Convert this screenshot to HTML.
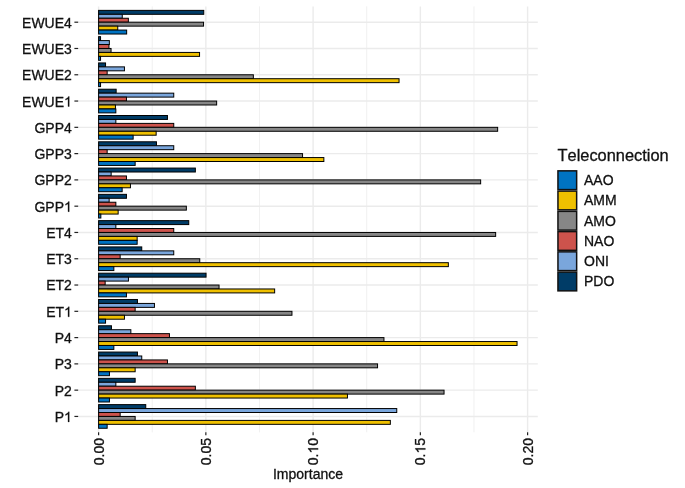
<!DOCTYPE html><html><head><meta charset="utf-8"><style>html,body{margin:0;padding:0;background:#fff;}svg{display:block;will-change:transform;}text{font-family:"Liberation Sans",sans-serif;font-kerning:none;stroke:#111;stroke-width:0.3px;}</style></head><body>
<svg width="685" height="488" viewBox="0 0 685 488">
<rect x="0" y="0" width="685" height="488" fill="#fff"/>
<line x1="152.22" y1="6.4" x2="152.22" y2="432.3" stroke="#EBEBEB" stroke-width="0.75"/>
<line x1="259.48" y1="6.4" x2="259.48" y2="432.3" stroke="#EBEBEB" stroke-width="0.75"/>
<line x1="366.73" y1="6.4" x2="366.73" y2="432.3" stroke="#EBEBEB" stroke-width="0.75"/>
<line x1="473.98" y1="6.4" x2="473.98" y2="432.3" stroke="#EBEBEB" stroke-width="0.75"/>
<line x1="98.6" y1="6.4" x2="98.6" y2="432.3" stroke="#EBEBEB" stroke-width="1.4"/>
<line x1="205.85" y1="6.4" x2="205.85" y2="432.3" stroke="#EBEBEB" stroke-width="1.4"/>
<line x1="313.1" y1="6.4" x2="313.1" y2="432.3" stroke="#EBEBEB" stroke-width="1.4"/>
<line x1="420.35" y1="6.4" x2="420.35" y2="432.3" stroke="#EBEBEB" stroke-width="1.4"/>
<line x1="527.6" y1="6.4" x2="527.6" y2="432.3" stroke="#EBEBEB" stroke-width="1.4"/>
<line x1="78.5" y1="22.2" x2="537.8" y2="22.2" stroke="#EBEBEB" stroke-width="1.4"/>
<line x1="78.5" y1="48.48" x2="537.8" y2="48.48" stroke="#EBEBEB" stroke-width="1.4"/>
<line x1="78.5" y1="74.77" x2="537.8" y2="74.77" stroke="#EBEBEB" stroke-width="1.4"/>
<line x1="78.5" y1="101.05" x2="537.8" y2="101.05" stroke="#EBEBEB" stroke-width="1.4"/>
<line x1="78.5" y1="127.33" x2="537.8" y2="127.33" stroke="#EBEBEB" stroke-width="1.4"/>
<line x1="78.5" y1="153.62" x2="537.8" y2="153.62" stroke="#EBEBEB" stroke-width="1.4"/>
<line x1="78.5" y1="179.9" x2="537.8" y2="179.9" stroke="#EBEBEB" stroke-width="1.4"/>
<line x1="78.5" y1="206.18" x2="537.8" y2="206.18" stroke="#EBEBEB" stroke-width="1.4"/>
<line x1="78.5" y1="232.46" x2="537.8" y2="232.46" stroke="#EBEBEB" stroke-width="1.4"/>
<line x1="78.5" y1="258.75" x2="537.8" y2="258.75" stroke="#EBEBEB" stroke-width="1.4"/>
<line x1="78.5" y1="285.03" x2="537.8" y2="285.03" stroke="#EBEBEB" stroke-width="1.4"/>
<line x1="78.5" y1="311.31" x2="537.8" y2="311.31" stroke="#EBEBEB" stroke-width="1.4"/>
<line x1="78.5" y1="337.6" x2="537.8" y2="337.6" stroke="#EBEBEB" stroke-width="1.4"/>
<line x1="78.5" y1="363.88" x2="537.8" y2="363.88" stroke="#EBEBEB" stroke-width="1.4"/>
<line x1="78.5" y1="390.16" x2="537.8" y2="390.16" stroke="#EBEBEB" stroke-width="1.4"/>
<line x1="78.5" y1="416.44" x2="537.8" y2="416.44" stroke="#EBEBEB" stroke-width="1.4"/>
<rect x="98.6" y="10.37" width="105.15" height="3.94" fill="#003C67" stroke="#000" stroke-width="1.0"/>
<rect x="98.6" y="14.32" width="23.65" height="3.94" fill="#7AA6DC" stroke="#000" stroke-width="1.0"/>
<rect x="98.6" y="18.26" width="29.75" height="3.94" fill="#CD534C" stroke="#000" stroke-width="1.0"/>
<rect x="98.6" y="22.2" width="104.95" height="3.94" fill="#868686" stroke="#000" stroke-width="1.0"/>
<rect x="98.6" y="26.14" width="19.15" height="3.94" fill="#EFC000" stroke="#000" stroke-width="1.0"/>
<rect x="98.6" y="30.08" width="28.05" height="3.94" fill="#0073C2" stroke="#000" stroke-width="1.0"/>
<rect x="98.6" y="36.66" width="1.95" height="3.94" fill="#003C67" stroke="#000" stroke-width="1.0"/>
<rect x="98.6" y="40.6" width="10.75" height="3.94" fill="#7AA6DC" stroke="#000" stroke-width="1.0"/>
<rect x="98.6" y="44.54" width="10.35" height="3.94" fill="#CD534C" stroke="#000" stroke-width="1.0"/>
<rect x="98.6" y="48.48" width="12.45" height="3.94" fill="#868686" stroke="#000" stroke-width="1.0"/>
<rect x="98.6" y="52.43" width="100.95" height="3.94" fill="#EFC000" stroke="#000" stroke-width="1.0"/>
<rect x="98.6" y="56.37" width="1.95" height="3.94" fill="#0073C2" stroke="#000" stroke-width="1.0"/>
<rect x="98.6" y="62.94" width="6.95" height="3.94" fill="#003C67" stroke="#000" stroke-width="1.0"/>
<rect x="98.6" y="66.88" width="25.85" height="3.94" fill="#7AA6DC" stroke="#000" stroke-width="1.0"/>
<rect x="98.6" y="70.82" width="8.55" height="3.94" fill="#CD534C" stroke="#000" stroke-width="1.0"/>
<rect x="98.6" y="74.77" width="154.75" height="3.94" fill="#868686" stroke="#000" stroke-width="1.0"/>
<rect x="98.6" y="78.71" width="300.45" height="3.94" fill="#EFC000" stroke="#000" stroke-width="1.0"/>
<rect x="98.6" y="82.65" width="1.95" height="3.94" fill="#0073C2" stroke="#000" stroke-width="1.0"/>
<rect x="98.6" y="89.22" width="17.55" height="3.94" fill="#003C67" stroke="#000" stroke-width="1.0"/>
<rect x="98.6" y="93.16" width="75.15" height="3.94" fill="#7AA6DC" stroke="#000" stroke-width="1.0"/>
<rect x="98.6" y="97.11" width="27.85" height="3.94" fill="#CD534C" stroke="#000" stroke-width="1.0"/>
<rect x="98.6" y="101.05" width="118.05" height="3.94" fill="#868686" stroke="#000" stroke-width="1.0"/>
<rect x="98.6" y="104.99" width="16.85" height="3.94" fill="#EFC000" stroke="#000" stroke-width="1.0"/>
<rect x="98.6" y="108.93" width="17.25" height="3.94" fill="#0073C2" stroke="#000" stroke-width="1.0"/>
<rect x="98.6" y="115.5" width="68.85" height="3.94" fill="#003C67" stroke="#000" stroke-width="1.0"/>
<rect x="98.6" y="119.45" width="17.25" height="3.94" fill="#7AA6DC" stroke="#000" stroke-width="1.0"/>
<rect x="98.6" y="123.39" width="75.15" height="3.94" fill="#CD534C" stroke="#000" stroke-width="1.0"/>
<rect x="98.6" y="127.33" width="399.05" height="3.94" fill="#868686" stroke="#000" stroke-width="1.0"/>
<rect x="98.6" y="131.27" width="57.55" height="3.94" fill="#EFC000" stroke="#000" stroke-width="1.0"/>
<rect x="98.6" y="135.22" width="34.55" height="3.94" fill="#0073C2" stroke="#000" stroke-width="1.0"/>
<rect x="98.6" y="141.79" width="57.85" height="3.94" fill="#003C67" stroke="#000" stroke-width="1.0"/>
<rect x="98.6" y="145.73" width="75.15" height="3.94" fill="#7AA6DC" stroke="#000" stroke-width="1.0"/>
<rect x="98.6" y="149.67" width="8.55" height="3.94" fill="#CD534C" stroke="#000" stroke-width="1.0"/>
<rect x="98.6" y="153.62" width="203.95" height="3.94" fill="#868686" stroke="#000" stroke-width="1.0"/>
<rect x="98.6" y="157.56" width="225.25" height="3.94" fill="#EFC000" stroke="#000" stroke-width="1.0"/>
<rect x="98.6" y="161.5" width="36.55" height="3.94" fill="#0073C2" stroke="#000" stroke-width="1.0"/>
<rect x="98.6" y="168.07" width="96.75" height="3.94" fill="#003C67" stroke="#000" stroke-width="1.0"/>
<rect x="98.6" y="172.01" width="12.55" height="3.94" fill="#7AA6DC" stroke="#000" stroke-width="1.0"/>
<rect x="98.6" y="175.96" width="27.85" height="3.94" fill="#CD534C" stroke="#000" stroke-width="1.0"/>
<rect x="98.6" y="179.9" width="382.05" height="3.94" fill="#868686" stroke="#000" stroke-width="1.0"/>
<rect x="98.6" y="183.84" width="31.85" height="3.94" fill="#EFC000" stroke="#000" stroke-width="1.0"/>
<rect x="98.6" y="187.78" width="23.55" height="3.94" fill="#0073C2" stroke="#000" stroke-width="1.0"/>
<rect x="98.6" y="194.35" width="27.85" height="3.94" fill="#003C67" stroke="#000" stroke-width="1.0"/>
<rect x="98.6" y="198.3" width="10.55" height="3.94" fill="#7AA6DC" stroke="#000" stroke-width="1.0"/>
<rect x="98.6" y="202.24" width="17.25" height="3.94" fill="#CD534C" stroke="#000" stroke-width="1.0"/>
<rect x="98.6" y="206.18" width="87.75" height="3.94" fill="#868686" stroke="#000" stroke-width="1.0"/>
<rect x="98.6" y="210.12" width="19.55" height="3.94" fill="#EFC000" stroke="#000" stroke-width="1.0"/>
<rect x="98.6" y="214.07" width="2.25" height="3.94" fill="#0073C2" stroke="#000" stroke-width="1.0"/>
<rect x="98.6" y="220.64" width="90.15" height="3.94" fill="#003C67" stroke="#000" stroke-width="1.0"/>
<rect x="98.6" y="224.58" width="17.25" height="3.94" fill="#7AA6DC" stroke="#000" stroke-width="1.0"/>
<rect x="98.6" y="228.52" width="75.15" height="3.94" fill="#CD534C" stroke="#000" stroke-width="1.0"/>
<rect x="98.6" y="232.46" width="397.05" height="3.94" fill="#868686" stroke="#000" stroke-width="1.0"/>
<rect x="98.6" y="236.41" width="38.55" height="3.94" fill="#EFC000" stroke="#000" stroke-width="1.0"/>
<rect x="98.6" y="240.35" width="38.55" height="3.94" fill="#0073C2" stroke="#000" stroke-width="1.0"/>
<rect x="98.6" y="246.92" width="43.15" height="3.94" fill="#003C67" stroke="#000" stroke-width="1.0"/>
<rect x="98.6" y="250.86" width="75.15" height="3.94" fill="#7AA6DC" stroke="#000" stroke-width="1.0"/>
<rect x="98.6" y="254.8" width="21.55" height="3.94" fill="#CD534C" stroke="#000" stroke-width="1.0"/>
<rect x="98.6" y="258.75" width="101.15" height="3.94" fill="#868686" stroke="#000" stroke-width="1.0"/>
<rect x="98.6" y="262.69" width="349.75" height="3.94" fill="#EFC000" stroke="#000" stroke-width="1.0"/>
<rect x="98.6" y="266.63" width="15.25" height="3.94" fill="#0073C2" stroke="#000" stroke-width="1.0"/>
<rect x="98.6" y="273.2" width="107.45" height="3.94" fill="#003C67" stroke="#000" stroke-width="1.0"/>
<rect x="98.6" y="277.15" width="29.85" height="3.94" fill="#7AA6DC" stroke="#000" stroke-width="1.0"/>
<rect x="98.6" y="281.09" width="6.55" height="3.94" fill="#CD534C" stroke="#000" stroke-width="1.0"/>
<rect x="98.6" y="285.03" width="120.45" height="3.94" fill="#868686" stroke="#000" stroke-width="1.0"/>
<rect x="98.6" y="288.97" width="176.05" height="3.94" fill="#EFC000" stroke="#000" stroke-width="1.0"/>
<rect x="98.6" y="292.91" width="27.85" height="3.94" fill="#0073C2" stroke="#000" stroke-width="1.0"/>
<rect x="98.6" y="299.49" width="38.85" height="3.94" fill="#003C67" stroke="#000" stroke-width="1.0"/>
<rect x="98.6" y="303.43" width="55.85" height="3.94" fill="#7AA6DC" stroke="#000" stroke-width="1.0"/>
<rect x="98.6" y="307.37" width="36.55" height="3.94" fill="#CD534C" stroke="#000" stroke-width="1.0"/>
<rect x="98.6" y="311.31" width="193.35" height="3.94" fill="#868686" stroke="#000" stroke-width="1.0"/>
<rect x="98.6" y="315.26" width="25.85" height="3.94" fill="#EFC000" stroke="#000" stroke-width="1.0"/>
<rect x="98.6" y="319.2" width="6.95" height="3.94" fill="#0073C2" stroke="#000" stroke-width="1.0"/>
<rect x="98.6" y="325.77" width="12.85" height="3.94" fill="#003C67" stroke="#000" stroke-width="1.0"/>
<rect x="98.6" y="329.71" width="32.25" height="3.94" fill="#7AA6DC" stroke="#000" stroke-width="1.0"/>
<rect x="98.6" y="333.65" width="70.85" height="3.94" fill="#CD534C" stroke="#000" stroke-width="1.0"/>
<rect x="98.6" y="337.6" width="285.35" height="3.94" fill="#868686" stroke="#000" stroke-width="1.0"/>
<rect x="98.6" y="341.54" width="418.45" height="3.94" fill="#EFC000" stroke="#000" stroke-width="1.0"/>
<rect x="98.6" y="345.48" width="15.25" height="3.94" fill="#0073C2" stroke="#000" stroke-width="1.0"/>
<rect x="98.6" y="352.05" width="38.85" height="3.94" fill="#003C67" stroke="#000" stroke-width="1.0"/>
<rect x="98.6" y="355.99" width="43.15" height="3.94" fill="#7AA6DC" stroke="#000" stroke-width="1.0"/>
<rect x="98.6" y="359.94" width="68.85" height="3.94" fill="#CD534C" stroke="#000" stroke-width="1.0"/>
<rect x="98.6" y="363.88" width="278.95" height="3.94" fill="#868686" stroke="#000" stroke-width="1.0"/>
<rect x="98.6" y="367.82" width="36.55" height="3.94" fill="#EFC000" stroke="#000" stroke-width="1.0"/>
<rect x="98.6" y="371.76" width="10.85" height="3.94" fill="#0073C2" stroke="#000" stroke-width="1.0"/>
<rect x="98.6" y="378.33" width="36.55" height="3.94" fill="#003C67" stroke="#000" stroke-width="1.0"/>
<rect x="98.6" y="382.28" width="17.25" height="3.94" fill="#7AA6DC" stroke="#000" stroke-width="1.0"/>
<rect x="98.6" y="386.22" width="96.75" height="3.94" fill="#CD534C" stroke="#000" stroke-width="1.0"/>
<rect x="98.6" y="390.16" width="345.45" height="3.94" fill="#868686" stroke="#000" stroke-width="1.0"/>
<rect x="98.6" y="394.1" width="248.85" height="3.94" fill="#EFC000" stroke="#000" stroke-width="1.0"/>
<rect x="98.6" y="398.05" width="10.85" height="3.94" fill="#0073C2" stroke="#000" stroke-width="1.0"/>
<rect x="98.6" y="404.62" width="47.15" height="3.94" fill="#003C67" stroke="#000" stroke-width="1.0"/>
<rect x="98.6" y="408.56" width="298.15" height="3.94" fill="#7AA6DC" stroke="#000" stroke-width="1.0"/>
<rect x="98.6" y="412.5" width="21.55" height="3.94" fill="#CD534C" stroke="#000" stroke-width="1.0"/>
<rect x="98.6" y="416.44" width="36.55" height="3.94" fill="#868686" stroke="#000" stroke-width="1.0"/>
<rect x="98.6" y="420.39" width="291.75" height="3.94" fill="#EFC000" stroke="#000" stroke-width="1.0"/>
<rect x="98.6" y="424.33" width="8.55" height="3.94" fill="#0073C2" stroke="#000" stroke-width="1.0"/>
<line x1="74.4" y1="22.2" x2="78.2" y2="22.2" stroke="#222" stroke-width="1.2"/>
<text transform="translate(71.8,27.65) scale(1,1.035)" font-size="14" text-anchor="end" fill="#111">EWUE4</text>
<line x1="74.4" y1="48.48" x2="78.2" y2="48.48" stroke="#222" stroke-width="1.2"/>
<text transform="translate(71.8,53.93) scale(1,1.035)" font-size="14" text-anchor="end" fill="#111">EWUE3</text>
<line x1="74.4" y1="74.77" x2="78.2" y2="74.77" stroke="#222" stroke-width="1.2"/>
<text transform="translate(71.8,80.22) scale(1,1.035)" font-size="14" text-anchor="end" fill="#111">EWUE2</text>
<line x1="74.4" y1="101.05" x2="78.2" y2="101.05" stroke="#222" stroke-width="1.2"/>
<text transform="translate(71.8,106.5) scale(1,1.035)" font-size="14" text-anchor="end" fill="#111">EWUE </text><path d="M69.23 106.5L68 106.5L68 98.66Q67.55 99.08 66.97 99.43Q66.38 99.77 65.54 100.09L65.54 98.9Q67.05 98.19 67.62 97.68Q68.18 97.17 68.43 96.48L69.23 96.48Z" fill="#111" stroke="#111" stroke-width="0.3"/>
<line x1="74.4" y1="127.33" x2="78.2" y2="127.33" stroke="#222" stroke-width="1.2"/>
<text transform="translate(71.8,132.78) scale(1,1.035)" font-size="14" text-anchor="end" fill="#111">GPP4</text>
<line x1="74.4" y1="153.62" x2="78.2" y2="153.62" stroke="#222" stroke-width="1.2"/>
<text transform="translate(71.8,159.06) scale(1,1.035)" font-size="14" text-anchor="end" fill="#111">GPP3</text>
<line x1="74.4" y1="179.9" x2="78.2" y2="179.9" stroke="#222" stroke-width="1.2"/>
<text transform="translate(71.8,185.35) scale(1,1.035)" font-size="14" text-anchor="end" fill="#111">GPP2</text>
<line x1="74.4" y1="206.18" x2="78.2" y2="206.18" stroke="#222" stroke-width="1.2"/>
<text transform="translate(71.8,211.63) scale(1,1.035)" font-size="14" text-anchor="end" fill="#111">GPP </text><path d="M69.23 211.63L68 211.63L68 203.79Q67.55 204.21 66.97 204.56Q66.38 204.9 65.54 205.22L65.54 204.03Q67.05 203.32 67.62 202.81Q68.18 202.31 68.43 201.61L69.23 201.61Z" fill="#111" stroke="#111" stroke-width="0.3"/>
<line x1="74.4" y1="232.46" x2="78.2" y2="232.46" stroke="#222" stroke-width="1.2"/>
<text transform="translate(71.8,237.91) scale(1,1.035)" font-size="14" text-anchor="end" fill="#111">ET4</text>
<line x1="74.4" y1="258.75" x2="78.2" y2="258.75" stroke="#222" stroke-width="1.2"/>
<text transform="translate(71.8,264.2) scale(1,1.035)" font-size="14" text-anchor="end" fill="#111">ET3</text>
<line x1="74.4" y1="285.03" x2="78.2" y2="285.03" stroke="#222" stroke-width="1.2"/>
<text transform="translate(71.8,290.48) scale(1,1.035)" font-size="14" text-anchor="end" fill="#111">ET2</text>
<line x1="74.4" y1="311.31" x2="78.2" y2="311.31" stroke="#222" stroke-width="1.2"/>
<text transform="translate(71.8,316.76) scale(1,1.035)" font-size="14" text-anchor="end" fill="#111">ET </text><path d="M69.23 316.76L68 316.76L68 308.92Q67.55 309.35 66.97 309.69Q66.38 310.04 65.54 310.35L65.54 309.16Q67.05 308.45 67.62 307.94Q68.18 307.44 68.43 306.74L69.23 306.74Z" fill="#111" stroke="#111" stroke-width="0.3"/>
<line x1="74.4" y1="337.6" x2="78.2" y2="337.6" stroke="#222" stroke-width="1.2"/>
<text transform="translate(71.8,343.05) scale(1,1.035)" font-size="14" text-anchor="end" fill="#111">P4</text>
<line x1="74.4" y1="363.88" x2="78.2" y2="363.88" stroke="#222" stroke-width="1.2"/>
<text transform="translate(71.8,369.33) scale(1,1.035)" font-size="14" text-anchor="end" fill="#111">P3</text>
<line x1="74.4" y1="390.16" x2="78.2" y2="390.16" stroke="#222" stroke-width="1.2"/>
<text transform="translate(71.8,395.61) scale(1,1.035)" font-size="14" text-anchor="end" fill="#111">P2</text>
<line x1="74.4" y1="416.44" x2="78.2" y2="416.44" stroke="#222" stroke-width="1.2"/>
<text transform="translate(71.8,421.89) scale(1,1.035)" font-size="14" text-anchor="end" fill="#111">P </text><path d="M69.23 421.89L68 421.89L68 414.05Q67.55 414.48 66.97 414.82Q66.38 415.17 65.54 415.48L65.54 414.29Q67.05 413.58 67.62 413.08Q68.18 412.57 68.43 411.87L69.23 411.87Z" fill="#111" stroke="#111" stroke-width="0.3"/>
<line x1="98.6" y1="432.3" x2="98.6" y2="435.3" stroke="#222" stroke-width="1.2"/>
<g transform="translate(103.6,438) rotate(-90)"><text transform="translate(0,0) scale(1,1.035)" font-size="14" text-anchor="end" fill="#111">0.00</text></g>
<line x1="205.85" y1="432.3" x2="205.85" y2="435.3" stroke="#222" stroke-width="1.2"/>
<g transform="translate(210.85,438) rotate(-90)"><text transform="translate(0,0) scale(1,1.035)" font-size="14" text-anchor="end" fill="#111">0.05</text></g>
<line x1="313.1" y1="432.3" x2="313.1" y2="435.3" stroke="#222" stroke-width="1.2"/>
<g transform="translate(318.1,438) rotate(-90)"><text transform="translate(0,0) scale(1,1.035)" font-size="14" text-anchor="end" fill="#111">0. 0</text><path d="M-10.36 0L-11.59 0L-11.59 -7.84Q-12.03 -7.42 -12.62 -7.07Q-13.21 -6.73 -14.05 -6.41L-14.05 -7.6Q-12.54 -8.31 -11.97 -8.82Q-11.4 -9.32 -11.16 -10.02L-10.36 -10.02Z" fill="#111" stroke="#111" stroke-width="0.3"/></g>
<line x1="420.35" y1="432.3" x2="420.35" y2="435.3" stroke="#222" stroke-width="1.2"/>
<g transform="translate(425.35,438) rotate(-90)"><text transform="translate(0,0) scale(1,1.035)" font-size="14" text-anchor="end" fill="#111">0. 5</text><path d="M-10.36 0L-11.59 0L-11.59 -7.84Q-12.03 -7.42 -12.62 -7.07Q-13.21 -6.73 -14.05 -6.41L-14.05 -7.6Q-12.54 -8.31 -11.97 -8.82Q-11.4 -9.32 -11.16 -10.02L-10.36 -10.02Z" fill="#111" stroke="#111" stroke-width="0.3"/></g>
<line x1="527.6" y1="432.3" x2="527.6" y2="435.3" stroke="#222" stroke-width="1.2"/>
<g transform="translate(532.6,438) rotate(-90)"><text transform="translate(0,0) scale(1,1.035)" font-size="14" text-anchor="end" fill="#111">0.20</text></g>
<text x="308" y="478.7" font-size="14" text-anchor="middle" fill="#111">Importance</text>
<text x="557.5" y="160.7" font-size="16.4" fill="#111">Teleconnection</text>
<rect x="557.95" y="170.85" width="18.7" height="18.75" fill="#0073C2" stroke="#111" stroke-width="1.5"/>
<text transform="translate(584,185.22) scale(1,1.035)" font-size="14" text-anchor="start" fill="#111">AAO</text>
<rect x="557.95" y="191.1" width="18.7" height="18.75" fill="#EFC000" stroke="#111" stroke-width="1.5"/>
<text transform="translate(584,205.47) scale(1,1.035)" font-size="14" text-anchor="start" fill="#111">AMM</text>
<rect x="557.95" y="211.35" width="18.7" height="18.75" fill="#868686" stroke="#111" stroke-width="1.5"/>
<text transform="translate(584,225.72) scale(1,1.035)" font-size="14" text-anchor="start" fill="#111">AMO</text>
<rect x="557.95" y="231.6" width="18.7" height="18.75" fill="#CD534C" stroke="#111" stroke-width="1.5"/>
<text transform="translate(584,245.97) scale(1,1.035)" font-size="14" text-anchor="start" fill="#111">NAO</text>
<rect x="557.95" y="251.85" width="18.7" height="18.75" fill="#7AA6DC" stroke="#111" stroke-width="1.5"/>
<text transform="translate(584,266.23) scale(1,1.035)" font-size="14" text-anchor="start" fill="#111">ONI</text>
<rect x="557.95" y="272.1" width="18.7" height="18.75" fill="#003C67" stroke="#111" stroke-width="1.5"/>
<text transform="translate(584,286.48) scale(1,1.035)" font-size="14" text-anchor="start" fill="#111">PDO</text>
</svg></body></html>
